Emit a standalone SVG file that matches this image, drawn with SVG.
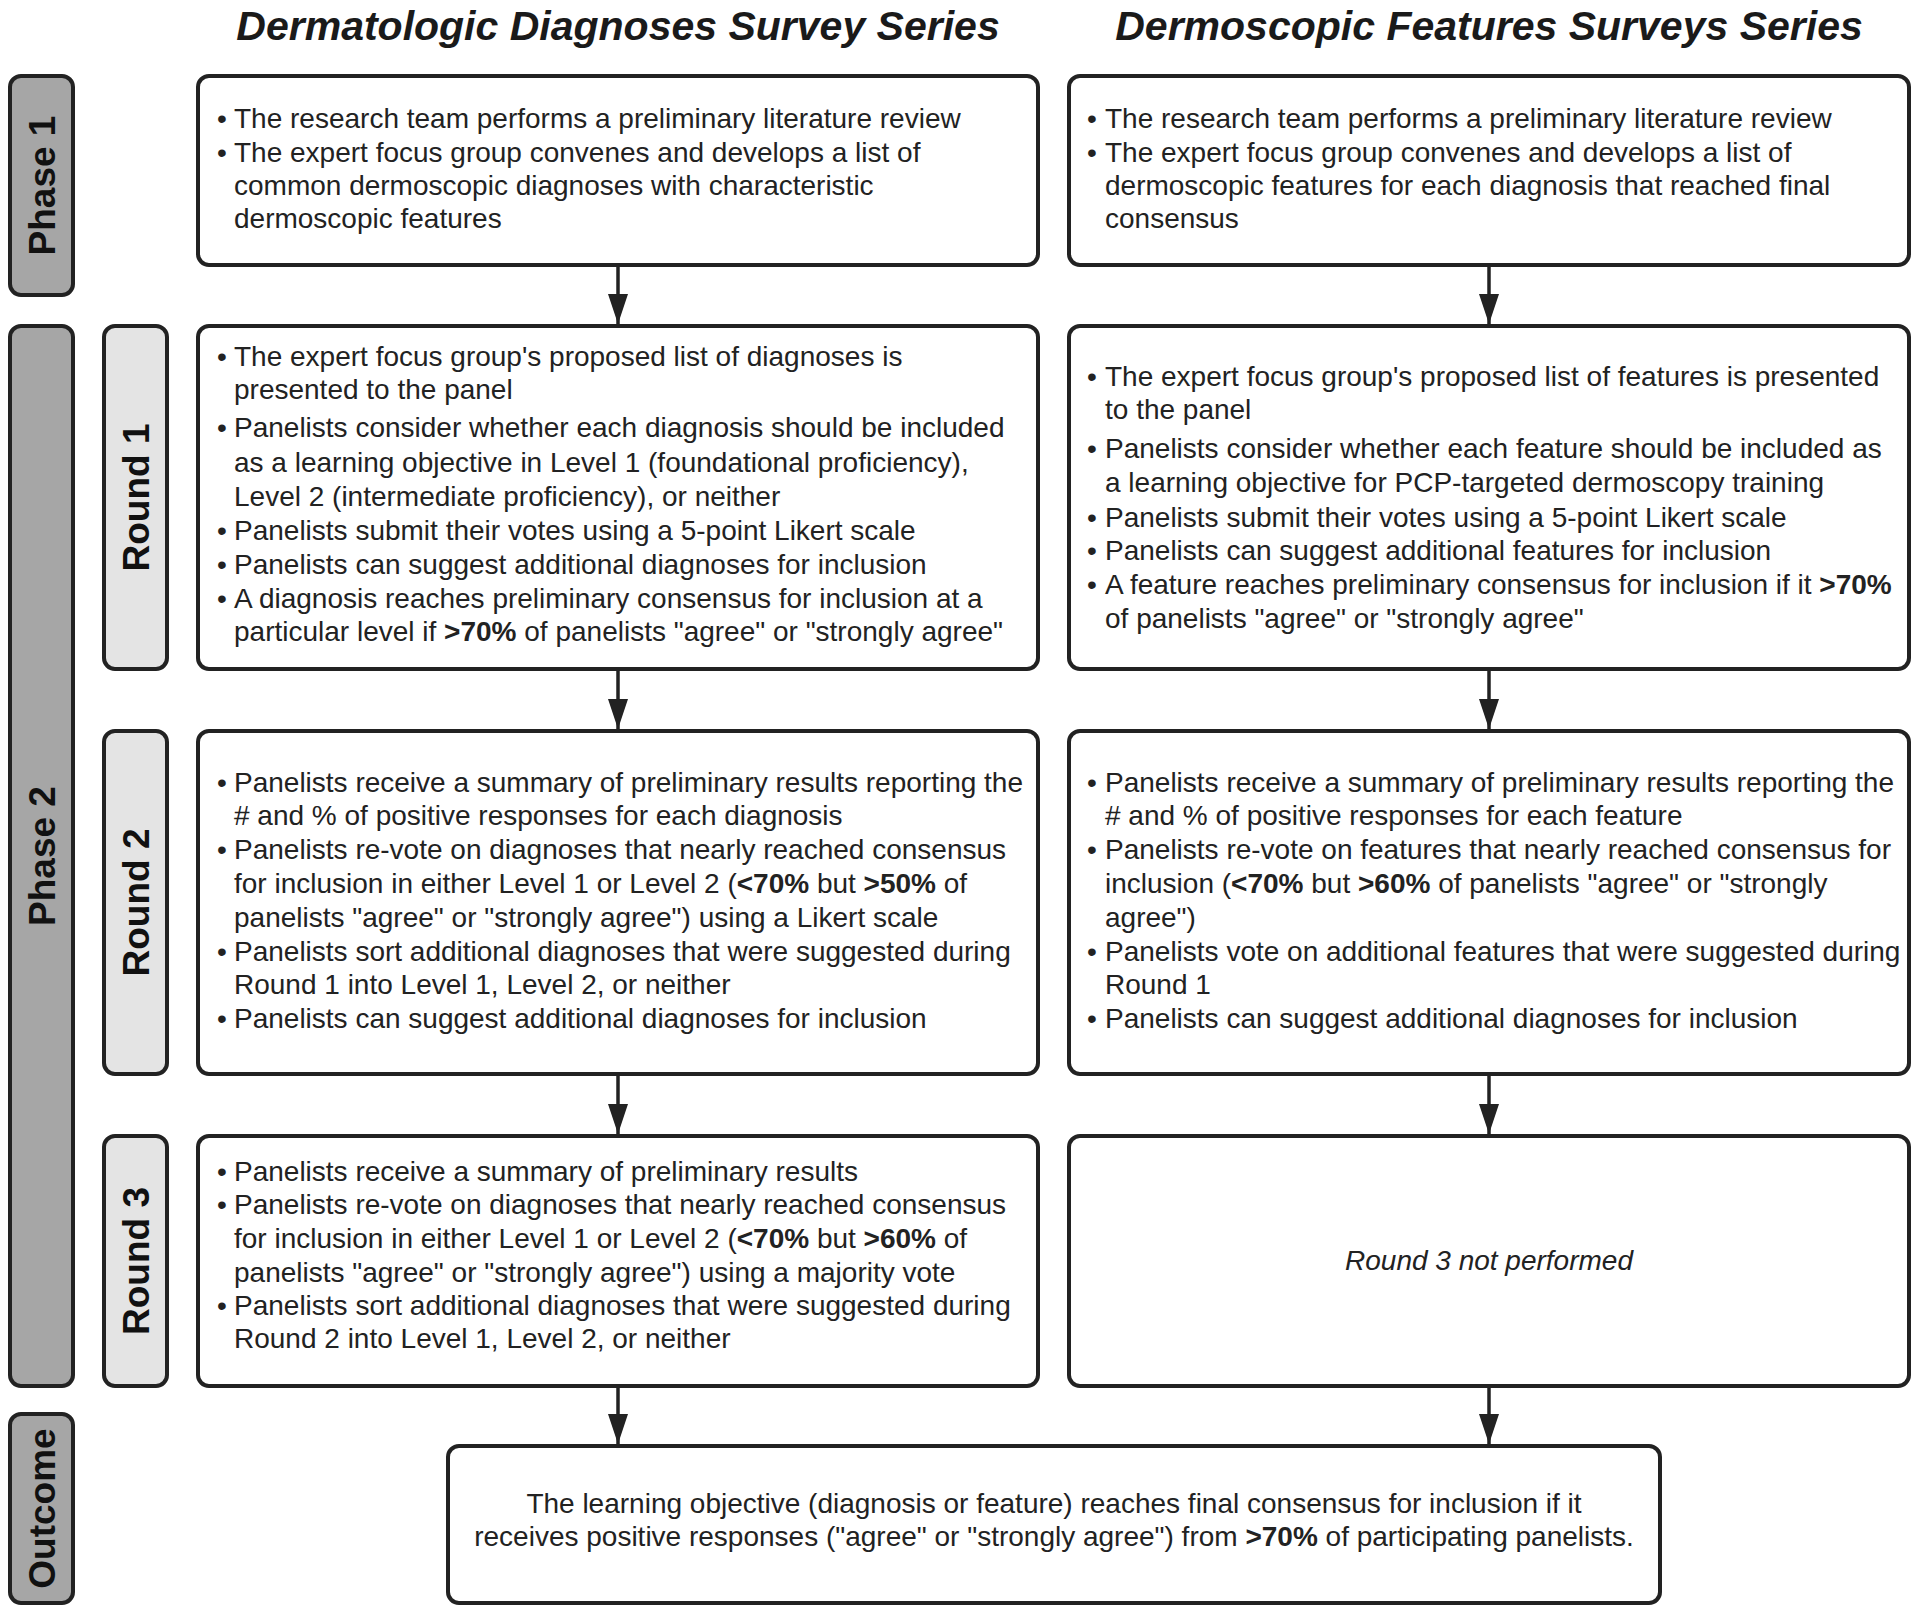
<svg xmlns="http://www.w3.org/2000/svg" width="1920" height="1612" viewBox="0 0 1920 1612">
<defs>
<style>
.title{font-family:"Liberation Sans",Arial,sans-serif;font-size:41px;font-weight:bold;font-style:italic;fill:#1a1a1a;text-anchor:middle}
.t{font-family:"Liberation Sans",Arial,sans-serif;font-size:28px;fill:#222}
.b{font-weight:bold}
.it{font-style:italic}
.box{fill:#fff;stroke:#222;stroke-width:4}
.phase{fill:#a6a6a6;stroke:#222;stroke-width:4}
.round{fill:#e4e4e4;stroke:#222;stroke-width:4}
.lab{font-family:"Liberation Sans",Arial,sans-serif;font-size:37px;font-weight:bold;fill:#111;text-anchor:middle}
.conn{stroke:#222;stroke-width:3.5;fill:none;marker-end:url(#ah)}
</style>
<marker id="ah" markerUnits="userSpaceOnUse" markerWidth="30" markerHeight="20" refX="30" refY="10" orient="auto" viewBox="0 0 30 20">
<path d="M0,0 L30,10 L0,20 z" fill="#222"/>
</marker>
</defs>
<rect width="1920" height="1612" fill="#fff"/>

<text class="title" x="618" y="40">Dermatologic Diagnoses Survey Series</text>
<text class="title" x="1489" y="40">Dermoscopic Features Surveys Series</text>

<g id="label-phase1"><rect class="phase" x="10" y="76" width="63" height="219" rx="11"/><text class="lab" transform="translate(55,185.5) rotate(-90)">Phase 1</text></g>
<g id="label-phase2"><rect class="phase" x="10" y="326" width="63" height="1060" rx="11"/><text class="lab" transform="translate(55,856) rotate(-90)">Phase 2</text></g>
<g id="label-outcome"><rect class="phase" x="10" y="1414" width="63" height="189" rx="11"/><text class="lab" transform="translate(55,1508.5) rotate(-90)">Outcome</text></g>
<g id="label-round1"><rect class="round" x="104" y="326" width="63" height="343" rx="11"/><text class="lab" transform="translate(149,497.5) rotate(-90)">Round 1</text></g>
<g id="label-round2"><rect class="round" x="104" y="731" width="63" height="343" rx="11"/><text class="lab" transform="translate(149,902.5) rotate(-90)">Round 2</text></g>
<g id="label-round3"><rect class="round" x="104" y="1136" width="63" height="250" rx="11"/><text class="lab" transform="translate(149,1261) rotate(-90)">Round 3</text></g>

<g id="connectors">
<line class="conn" x1="618" y1="265" x2="618" y2="324"/>
<line class="conn" x1="1489" y1="265" x2="1489" y2="324"/>
<line class="conn" x1="618" y1="669" x2="618" y2="729"/>
<line class="conn" x1="1489" y1="669" x2="1489" y2="729"/>
<line class="conn" x1="618" y1="1074" x2="618" y2="1134"/>
<line class="conn" x1="1489" y1="1074" x2="1489" y2="1134"/>
<line class="conn" x1="618" y1="1386" x2="618" y2="1444"/>
<line class="conn" x1="1489" y1="1386" x2="1489" y2="1444"/>
</g>

<g id="dd-phase1">
<rect class="box" x="198" y="76" width="840" height="189" rx="11"/>
<text class="t" y="128"><tspan x="217">•</tspan><tspan x="234">The research team performs a preliminary literature review</tspan></text>
<text class="t" y="162"><tspan x="217">•</tspan><tspan x="234">The expert focus group convenes and develops a list of</tspan></text>
<text class="t" x="234" y="195">common dermoscopic diagnoses with characteristic</text>
<text class="t" x="234" y="228">dermoscopic features</text>
</g>

<g id="df-phase1">
<rect class="box" x="1069" y="76" width="840" height="189" rx="11"/>
<text class="t" y="128"><tspan x="1087">•</tspan><tspan x="1105">The research team performs a preliminary literature review</tspan></text>
<text class="t" y="162"><tspan x="1087">•</tspan><tspan x="1105">The expert focus group convenes and develops a list of</tspan></text>
<text class="t" x="1105" y="195">dermoscopic features for each diagnosis that reached final</text>
<text class="t" x="1105" y="228">consensus</text>
</g>

<g id="dd-round1">
<rect class="box" x="198" y="326" width="840" height="343" rx="11"/>
<text class="t" y="366"><tspan x="217">•</tspan><tspan x="234">The expert focus group's proposed list of diagnoses is</tspan></text>
<text class="t" x="234" y="399">presented to the panel</text>
<text class="t" y="437"><tspan x="217">•</tspan><tspan x="234">Panelists consider whether each diagnosis should be included</tspan></text>
<text class="t" x="234" y="472">as a learning objective in Level 1 (foundational proficiency),</text>
<text class="t" x="234" y="506">Level 2 (intermediate proficiency), or neither</text>
<text class="t" y="540"><tspan x="217">•</tspan><tspan x="234">Panelists submit their votes using a 5-point Likert scale</tspan></text>
<text class="t" y="574"><tspan x="217">•</tspan><tspan x="234">Panelists can suggest additional diagnoses for inclusion</tspan></text>
<text class="t" y="608"><tspan x="217">•</tspan><tspan x="234">A diagnosis reaches preliminary consensus for inclusion at a</tspan></text>
<text class="t" x="234" y="641">particular level if <tspan class="b">&gt;70%</tspan> of panelists "agree" or "strongly agree"</text>
</g>

<g id="df-round1">
<rect class="box" x="1069" y="326" width="840" height="343" rx="11"/>
<text class="t" y="386"><tspan x="1087">•</tspan><tspan x="1105">The expert focus group's proposed list of features is presented</tspan></text>
<text class="t" x="1105" y="419">to the panel</text>
<text class="t" y="458"><tspan x="1087">•</tspan><tspan x="1105">Panelists consider whether each feature should be included as</tspan></text>
<text class="t" x="1105" y="492">a learning objective for PCP-targeted dermoscopy training</text>
<text class="t" y="527"><tspan x="1087">•</tspan><tspan x="1105">Panelists submit their votes using a 5-point Likert scale</tspan></text>
<text class="t" y="560"><tspan x="1087">•</tspan><tspan x="1105">Panelists can suggest additional features for inclusion</tspan></text>
<text class="t" y="594"><tspan x="1087">•</tspan><tspan x="1105">A feature reaches preliminary consensus for inclusion if it <tspan class="b">&gt;70%</tspan></tspan></text>
<text class="t" x="1105" y="628">of panelists "agree" or "strongly agree"</text>
</g>

<g id="dd-round2">
<rect class="box" x="198" y="731" width="840" height="343" rx="11"/>
<text class="t" y="792"><tspan x="217">•</tspan><tspan x="234">Panelists receive a summary of preliminary results reporting the</tspan></text>
<text class="t" x="234" y="825"># and % of positive responses for each diagnosis</text>
<text class="t" y="859"><tspan x="217">•</tspan><tspan x="234">Panelists re-vote on diagnoses that nearly reached consensus</tspan></text>
<text class="t" x="234" y="893">for inclusion in either Level 1 or Level 2 (<tspan class="b">&lt;70%</tspan> but <tspan class="b">&gt;50%</tspan> of</text>
<text class="t" x="234" y="927">panelists "agree" or "strongly agree") using a Likert scale</text>
<text class="t" y="961"><tspan x="217">•</tspan><tspan x="234">Panelists sort additional diagnoses that were suggested during</tspan></text>
<text class="t" x="234" y="994">Round 1 into Level 1, Level 2, or neither</text>
<text class="t" y="1028"><tspan x="217">•</tspan><tspan x="234">Panelists can suggest additional diagnoses for inclusion</tspan></text>
</g>

<g id="df-round2">
<rect class="box" x="1069" y="731" width="840" height="343" rx="11"/>
<text class="t" y="792"><tspan x="1087">•</tspan><tspan x="1105">Panelists receive a summary of preliminary results reporting the</tspan></text>
<text class="t" x="1105" y="825"># and % of positive responses for each feature</text>
<text class="t" y="859"><tspan x="1087">•</tspan><tspan x="1105">Panelists re-vote on features that nearly reached consensus for</tspan></text>
<text class="t" x="1105" y="893">inclusion (<tspan class="b">&lt;70%</tspan> but <tspan class="b">&gt;60%</tspan> of panelists "agree" or "strongly</text>
<text class="t" x="1105" y="927">agree")</text>
<text class="t" y="961"><tspan x="1087">•</tspan><tspan x="1105">Panelists vote on additional features that were suggested during</tspan></text>
<text class="t" x="1105" y="994">Round 1</text>
<text class="t" y="1028"><tspan x="1087">•</tspan><tspan x="1105">Panelists can suggest additional diagnoses for inclusion</tspan></text>
</g>

<g id="dd-round3">
<rect class="box" x="198" y="1136" width="840" height="250" rx="11"/>
<text class="t" y="1181"><tspan x="217">•</tspan><tspan x="234">Panelists receive a summary of preliminary results</tspan></text>
<text class="t" y="1214"><tspan x="217">•</tspan><tspan x="234">Panelists re-vote on diagnoses that nearly reached consensus</tspan></text>
<text class="t" x="234" y="1248">for inclusion in either Level 1 or Level 2 (<tspan class="b">&lt;70%</tspan> but <tspan class="b">&gt;60%</tspan> of</text>
<text class="t" x="234" y="1282">panelists "agree" or "strongly agree") using a majority vote</text>
<text class="t" y="1315"><tspan x="217">•</tspan><tspan x="234">Panelists sort additional diagnoses that were suggested during</tspan></text>
<text class="t" x="234" y="1348">Round 2 into Level 1, Level 2, or neither</text>
</g>

<g id="df-round3">
<rect class="box" x="1069" y="1136" width="840" height="250" rx="11"/>
<text class="t it" x="1489" y="1270" text-anchor="middle">Round 3 not performed</text>
</g>

<g id="outcome">
<rect class="box" x="448" y="1446" width="1212" height="157" rx="11"/>
<text class="t" x="1054" y="1513" text-anchor="middle">The learning objective (diagnosis or feature) reaches final consensus for inclusion if it</text>
<text class="t" x="1054" y="1546" text-anchor="middle">receives positive responses ("agree" or "strongly agree") from <tspan class="b">&gt;70%</tspan> of participating panelists.</text>
</g>
</svg>
